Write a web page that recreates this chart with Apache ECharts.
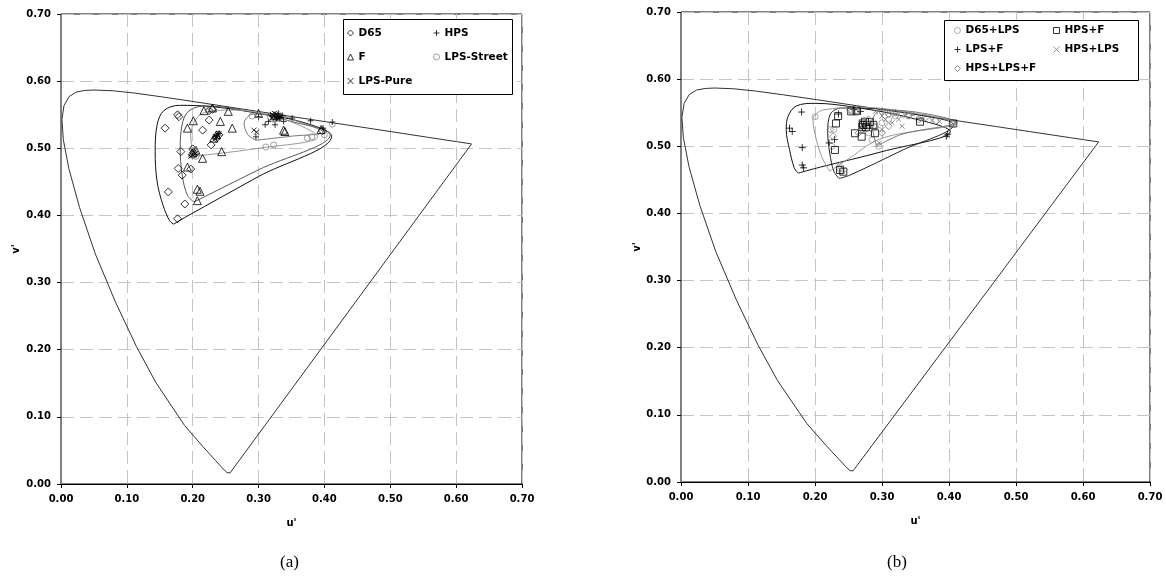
<!DOCTYPE html>
<html><head><meta charset="utf-8">
<script src="https://cdn.jsdelivr.net/npm/echarts@6/dist/echarts.min.js"></script>
<style>html,body{margin:0;padding:0;background:#fff}#c{width:1166px;height:583px}</style>
</head><body><div id="c"></div>
<script>
// ---- axis ticks ----
const tickValues = [0.0, 0.1, 0.2, 0.3, 0.4, 0.5, 0.6, 0.7];
const tickLabels = ['0.00','0.10','0.20','0.30','0.40','0.50','0.60','0.70'];

// ---- spectrum locus (u', v') closed by purple line ----
const locus = [[0.2568,0.0166],[0.2557,0.0159],[0.2522,0.0169],[0.2461,0.0226],[0.2347,0.0350],
  [0.2161,0.0549],[0.1877,0.0871],[0.1441,0.1510],[0.1147,0.2044],[0.0828,0.2708],[0.0521,0.3427],
  [0.0282,0.4117],[0.0119,0.4698],[0.0035,0.5131],[0.0014,0.5432],[0.0046,0.5638],[0.0123,0.5770],
  [0.0231,0.5837],[0.0360,0.5861],[0.0501,0.5868],[0.0792,0.5856],[0.1127,0.5821],[0.1531,0.5766],
  [0.2026,0.5694],[0.2623,0.5604],[0.3315,0.5501],[0.4035,0.5393],[0.4692,0.5296],[0.5203,0.5219],
  [0.5565,0.5165],[0.5830,0.5125],[0.6005,0.5099],[0.6234,0.5065],[0.2568,0.0166]];

// ---- panel (a) points ----
const d65 = [[0.158,0.530],[0.177,0.550],[0.179,0.547],[0.225,0.542],[0.215,0.527],[0.228,0.505],
  [0.182,0.495],[0.178,0.470],[0.184,0.460],[0.197,0.469],[0.163,0.435],[0.188,0.417],[0.177,0.395],
  [0.225,0.556],[0.230,0.558],[0.200,0.499],[0.202,0.492],[0.397,0.526],[0.240,0.520],[0.236,0.515]];
const fLamp = [[0.201,0.541],[0.217,0.556],[0.254,0.555],[0.242,0.540],[0.260,0.530],[0.192,0.530],
  [0.244,0.495],[0.215,0.485],[0.192,0.472],[0.207,0.439],[0.211,0.436],[0.207,0.422],[0.338,0.527],
  [0.340,0.525],[0.395,0.528],[0.236,0.520],[0.232,0.515],[0.200,0.493],[0.205,0.497],[0.300,0.552],[0.230,0.560]];
const hps = [[0.328,0.547],[0.325,0.550],[0.332,0.545],[0.320,0.548],[0.336,0.549],[0.351,0.545],
  [0.379,0.541],[0.412,0.539],[0.296,0.517],[0.310,0.535],[0.315,0.540],[0.338,0.540],[0.300,0.547],
  [0.325,0.535],[0.240,0.522],[0.236,0.518],[0.398,0.530],[0.322,0.543],[0.330,0.552],[0.334,0.546],
  [0.318,0.550],[0.327,0.544]];
const lpsStreet = [[0.200,0.493],[0.203,0.497],[0.198,0.490],[0.205,0.488],[0.311,0.502],[0.323,0.505],
  [0.374,0.515],[0.381,0.517],[0.177,0.550],[0.225,0.557],[0.290,0.548],[0.300,0.550],[0.318,0.546],
  [0.400,0.520],[0.412,0.536]];
const lpsPure = [[0.200,0.490],[0.202,0.494],[0.199,0.497],[0.204,0.492],[0.197,0.488],[0.236,0.517],
  [0.238,0.520],[0.234,0.514],[0.240,0.522],[0.326,0.546],[0.329,0.549],[0.323,0.548],[0.331,0.544],
  [0.327,0.551],[0.320,0.545],[0.293,0.527],[0.297,0.524],[0.324,0.552],[0.333,0.548],[0.328,0.543]];

// ---- panel (a) gamut outlines ----
const hullD65 = [[0.171,0.387],[0.190,0.398],[0.300,0.458],[0.411,0.518],[0.370,0.538],[0.300,0.552],
  [0.230,0.562],[0.180,0.564],[0.156,0.556],[0.146,0.535],[0.143,0.495],[0.146,0.450],[0.155,0.415],
  [0.165,0.392],[0.171,0.387]];
const hullF = [[0.202,0.420],[0.300,0.468],[0.409,0.520],[0.350,0.540],[0.280,0.556],[0.220,0.563],
  [0.196,0.557],[0.185,0.540],[0.181,0.500],[0.184,0.460],[0.192,0.430],[0.202,0.420]];
const hullHps = [[0.296,0.512],[0.350,0.518],[0.398,0.524],[0.360,0.540],[0.320,0.551],[0.292,0.551],
  [0.278,0.537],[0.284,0.520],[0.296,0.512]];
const hullLpsStreet = [[0.200,0.488],[0.300,0.500],[0.390,0.517],[0.330,0.546],[0.260,0.557],
  [0.215,0.552],[0.197,0.520],[0.200,0.488]];

// ---- panel (b) points ----
const d65Lps = [[0.200,0.544],[0.237,0.467],[0.240,0.463],[0.225,0.500],[0.228,0.525],[0.255,0.553],
  [0.262,0.550],[0.270,0.525],[0.280,0.520],[0.290,0.530],[0.300,0.535],[0.310,0.540],[0.320,0.545],
  [0.330,0.548],[0.340,0.545],[0.355,0.540],[0.380,0.538],[0.405,0.533],[0.285,0.510],[0.295,0.500]];
const hpsF = [[0.2345,0.545],[0.2313,0.534],[0.2298,0.4945],[0.2373,0.4647],[0.2423,0.4622],[0.2712,0.534],
  [0.2746,0.5366],[0.2597,0.5194],[0.2697,0.5143],[0.3567,0.5366],[0.4064,0.534],[0.2895,0.5194],
  [0.272,0.5317],[0.282,0.536],[0.287,0.532],[0.254,0.552],[0.262,0.553],[0.2706,0.529],[0.276,0.528],[0.278,0.532]];
const lpsF = [[0.180,0.551],[0.162,0.527],[0.166,0.522],[0.181,0.498],[0.181,0.472],[0.183,0.468],
  [0.221,0.505],[0.229,0.510],[0.398,0.518],[0.396,0.515],[0.258,0.555],[0.268,0.552],[0.235,0.548]];
const hpsLps = [[0.300,0.545],[0.310,0.550],[0.320,0.548],[0.335,0.545],[0.360,0.540],[0.375,0.539],
  [0.386,0.537],[0.296,0.505],[0.305,0.540],[0.315,0.535],[0.325,0.540],[0.345,0.548],[0.290,0.552],
  [0.330,0.530],[0.300,0.525]];
const hpsLpsF = [[0.223,0.525],[0.227,0.515],[0.252,0.554],[0.262,0.553],[0.237,0.471],[0.243,0.465],
  [0.405,0.534],[0.300,0.552],[0.310,0.548],[0.280,0.540],[0.290,0.528],[0.320,0.550],[0.340,0.546],
  [0.365,0.543],[0.265,0.520],[0.300,0.520],[0.310,0.530]];

// ---- panel (b) gamut outlines ----
const hullLpsF = [[0.175,0.460],[0.208,0.469],[0.300,0.492],[0.402,0.522],[0.340,0.543],[0.260,0.558],
  [0.200,0.564],[0.172,0.560],[0.160,0.545],[0.157,0.525],[0.162,0.495],[0.169,0.468],[0.175,0.460]];
const hullHpsF = [[0.236,0.452],[0.252,0.457],[0.330,0.494],[0.407,0.532],[0.360,0.546],[0.290,0.556],
  [0.240,0.557],[0.223,0.548],[0.219,0.520],[0.222,0.490],[0.228,0.463],[0.236,0.452]];
const hullD65Lps = [[0.222,0.463],[0.245,0.478],[0.300,0.512],[0.412,0.535],[0.350,0.549],[0.270,0.558],
  [0.212,0.554],[0.197,0.540],[0.202,0.510],[0.212,0.480],[0.222,0.463]];
const hullHpsLps = [[0.292,0.500],[0.330,0.518],[0.410,0.536],[0.350,0.551],[0.300,0.554],[0.285,0.535],
  [0.292,0.500]];

const FONT = 'DejaVu Sans';
const PLUS = 'path://M5,0L5,10M0,5L10,5';
const CROSS = 'path://M0,0L10,10M10,0L0,10';

function scat(name, data, symbol, size, color, i) {
  return {type:'scatter', name, data, symbol, symbolSize:size, xAxisIndex:i, yAxisIndex:i,
    itemStyle:{color:'rgba(0,0,0,0)', borderColor:color, borderWidth:1}, z:4, silent:true};
}
function outline(name, data, color, i, smooth) {
  return {type:'line', name, data, symbol:'none', smooth:smooth, xAxisIndex:i, yAxisIndex:i,
    lineStyle:{color, width:1}, z:3, silent:true};
}
function xAx(i, gap) {
  return {type:'value', gridIndex:i, min:tickValues[0], max:tickValues[tickValues.length-1], interval:0.1,
    name:"u'", nameLocation:'middle', nameGap:gap,
    nameTextStyle:{fontFamily:FONT, fontWeight:'bold', fontSize:10, color:'#000'},
    axisLine:{show:true, onZero:false, lineStyle:{color:'#000', width:1}},
    axisTick:{show:true, length:4, lineStyle:{color:'#000'}},
    axisLabel:{margin:10, fontFamily:FONT, fontWeight:'bold', fontSize:10, color:'#000',
      formatter:v => tickLabels[Math.round(v*10)]},
    splitLine:{show:true, lineStyle:{color:'#c4c4c4', type:[13,6], width:1}}};
}
function yAx(i, gap) {
  return {type:'value', gridIndex:i, min:tickValues[0], max:tickValues[tickValues.length-1], interval:0.1,
    name:"v'", nameLocation:'middle', nameGap:gap,
    nameTextStyle:{fontFamily:FONT, fontWeight:'bold', fontSize:10, color:'#000'},
    axisLine:{show:true, onZero:false, lineStyle:{color:'#808080', width:1}},
    axisTick:{show:true, length:4, lineStyle:{color:'#000'}},
    axisLabel:{margin:10, fontFamily:FONT, fontWeight:'bold', fontSize:10, color:'#000',
      formatter:v => tickLabels[Math.round(v*10)]},
    splitLine:{show:true, lineStyle:{color:'#c4c4c4', type:[13,6], width:1}}};
}
const legText = {fontFamily:FONT, fontWeight:'bold', fontSize:10.5, color:'#000', lineHeight:12};
function leg(names, left, top, gap) {
  return {data:names, orient:'vertical', left, top, itemGap:gap, itemWidth:6, itemHeight:6,
    padding:0, selectedMode:false, textStyle:legText, z:20,
    itemStyle:{borderWidth:1, color:'rgba(0,0,0,0)'}};
}

const chart = echarts.init(document.getElementById('c'), null, {renderer:'canvas'});
chart.setOption({
  animation:false,
  backgroundColor:'#fff',
  grid:[
    {left:61, top:14, width:461, height:470, show:true, borderColor:'#000', borderWidth:1},
    {left:681, top:12, width:469, height:470, show:true, borderColor:'#000', borderWidth:1}
  ],
  xAxis:[xAx(0,34), xAx(1,34)],
  yAxis:[yAx(0,40), yAx(1,38)],
  legend:[
    leg(['D65','F','LPS-Pure'], 347, 27, 12),
    leg(['HPS','LPS-Street'], 433, 27, 12),
    leg(['D65+LPS','LPS+F','HPS+LPS+F'], 954, 24.5, 7),
    leg(['HPS+F','HPS+LPS'], 1053, 24.5, 7)
  ],
  graphic:[
    {type:'rect', shape:{x:343.5, y:19.5, width:169, height:75}, style:{fill:'#fff', stroke:'#000', lineWidth:1}, z:10},
    {type:'rect', shape:{x:944.5, y:20.5, width:194, height:60}, style:{fill:'#fff', stroke:'#000', lineWidth:1}, z:10},
    {type:'text', left:280, top:554, style:{text:'(a)', font:'17px "Liberation Serif"', fill:'#000'}},
    {type:'text', left:887, top:554, style:{text:'(b)', font:'17px "Liberation Serif"', fill:'#000'}}
  ],
  series:[
    outline('locusA', locus, '#333', 0, false),
    outline('hullD65', hullD65, '#111', 0, 0.35),
    outline('hullF', hullF, '#555', 0, 0.35),
    outline('hullHps', hullHps, '#777', 0, 0.35),
    outline('hullLpsStreet', hullLpsStreet, '#999', 0, 0.35),
    scat('D65', d65, 'diamond', 8, '#000', 0),
    scat('F', fLamp, 'triangle', 8, '#000', 0),
    scat('HPS', hps, PLUS, 6, '#000', 0),
    scat('LPS-Street', lpsStreet, 'circle', 6, '#888', 0),
    scat('LPS-Pure', lpsPure, CROSS, 5, '#000', 0),

    outline('locusB', locus, '#333', 1, false),
    outline('hullLpsF', hullLpsF, '#111', 1, 0.35),
    outline('hullHpsF', hullHpsF, '#222', 1, 0.35),
    outline('hullD65Lps', hullD65Lps, '#999', 1, 0.35),
    outline('hullHpsLps', hullHpsLps, '#777', 1, 0.35),
    scat('D65+LPS', d65Lps, 'circle', 6, '#999', 1),
    scat('HPS+F', hpsF, 'rect', 7, '#000', 1),
    scat('LPS+F', lpsF, PLUS, 7, '#000', 1),
    scat('HPS+LPS', hpsLps, CROSS, 5, '#777', 1),
    scat('HPS+LPS+F', hpsLpsF, 'diamond', 7, '#777', 1)
  ]
});
</script>
</body></html>
